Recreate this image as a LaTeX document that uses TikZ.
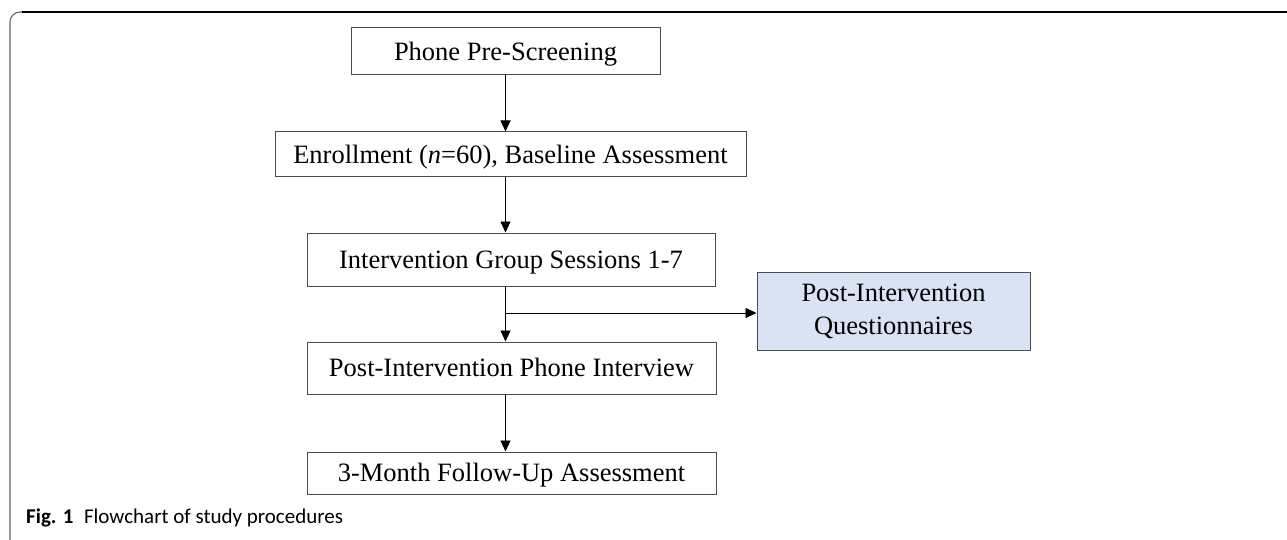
\documentclass[tikz,border=0pt]{standalone}
\usepackage{fontspec}
\setmainfont{Liberation Serif}
\newfontfamily\capfont{Carlito}
\usetikzlibrary{arrows.meta}
\definecolor{qblue}{HTML}{DAE3F3}
\tikzset{
  stepbox/.style={draw=black!70, line width=1pt, inner sep=0pt, font=\fontsize{26.5}{33}\selectfont},
  oneline/.style={text height=17.5pt, text depth=0pt},
  arr/.style={black, line width=0.9pt, -{Triangle[length=11pt,width=10pt]}},
}
\begin{document}
\begin{tikzpicture}[x=1pt,y=-1pt]
\useasboundingbox (0,0) rectangle (1287,540);
% outer frame
\draw[black!60, line width=1.1pt, rounded corners=10pt] (10,545) -- (10,12) -- (1300,12);
\draw[black, line width=1.1pt] (22,12) -- (1300,12);
% boxes
\node[stepbox, oneline, minimum width=309pt, minimum height=47pt] (b1) at (505.5,51.5) {Phone Pre-Screening};
\node[stepbox, oneline, minimum width=471pt, minimum height=45pt] (b2) at (510.5,154.5) {Enrollment (\textit{n}=60), Baseline Assessment};
\node[stepbox, oneline, minimum width=408pt, minimum height=53pt] (b3) at (511,259.5) {Intervention Group Sessions 1-7};
\node[stepbox, oneline, minimum width=409pt, minimum height=52pt] (b4) at (511.5,368) {Post-Intervention Phone Interview};
\node[stepbox, oneline, minimum width=409pt, minimum height=42pt] (b5) at (511.5,473) {3-Month Follow-Up Assessment};
\node[stepbox, fill=qblue, align=center, minimum width=273pt, minimum height=78pt] (q) at (893.5,311) {Post-Intervention\\Questionnaires};
% connectors
\coordinate (sp) at (505.5,0);
\coordinate (br) at (505.5,313);
\draw[arr] (b1.south) -- (b1.south |- b2.north);
\draw[arr] (sp |- b2.south) -- (sp |- b3.north);
\draw[arr] (sp |- b3.south) -- (sp |- b4.north);
\draw[arr] (sp |- b4.south) -- (sp |- b5.north);
\draw[arr] (br) -- (br -| q.west);
% caption
\node[anchor=base west, inner sep=0pt, font=\capfont\fontsize{21}{25}\selectfont] (cap) at (26,523) {\textbf{Fig. 1}\hspace{0.5em}Flowchart of study procedures};
\end{tikzpicture}
\end{document}
